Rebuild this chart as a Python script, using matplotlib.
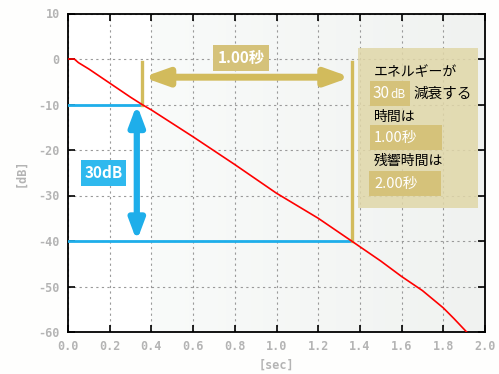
import numpy as np
import matplotlib
matplotlib.use("Agg")
import matplotlib.pyplot as plt
from matplotlib.patches import Rectangle

# ─── data ────────────────────────────────────────────────────────
t_sec = [0.0, 0.03, 0.05, 0.1, 0.2, 0.3, 0.355, 0.4, 0.6, 0.8, 1.0,
         1.2, 1.36, 1.5, 1.6, 1.7, 1.8, 1.85, 1.912]
decay_db = [0.0, 0.0, -0.8, -2.2, -5.3, -8.4, -10.0, -11.2, -17.1, -23.2,
            -29.5, -35.0, -40.0, -44.4, -47.8, -50.9, -54.7, -57.0, -60.0]

T_START, T_END = 0.355, 1.36      # -10 dB and -40 dB crossings
DB_START, DB_END = -10, -40
x_ticks = [0.0, 0.2, 0.4, 0.6, 0.8, 1.0, 1.2, 1.4, 1.6, 1.8, 2.0]
y_ticks = [10, 0, -10, -20, -30, -40, -50, -60]

# ─── colours ────────────────────────────────────────────────────
BLUE = "#1eaeea"
BLUE_BOX = "#2fb9ee"
GOLD = "#d2bb5c"
GOLD_BOX = "#d5c27a"
PANEL = "#e0d7a8"
TICK_C = "#b4b4b4"
JP = ["Noto Sans CJK JP", "DejaVu Sans"]
MONO = dict(family="DejaVu Sans Mono", fontweight="bold", fontsize=8.5,
            color=TICK_C)

fig = plt.figure(figsize=(4.99, 3.74), dpi=100)
fig.patch.set_facecolor("#fefefd")
ax = fig.add_axes([68 / 499, 1 - 332 / 374, 417 / 499, 318.5 / 374])
ax.set_xlim(0, 2.0)
ax.set_ylim(-60, 10)

# faint gradient panel on the right part of the plot
grad = np.linspace(0, 1, 256)[None, :]
ax.imshow(grad, extent=(0.4, 2.0, -60, 10), aspect="auto", zorder=0,
          cmap=matplotlib.colors.LinearSegmentedColormap.from_list(
              "g", ["#f9fbfa", "#f0f2f0"]))

ax.grid(True, color="#9a9a9a", linestyle=(0, (2, 3)), linewidth=0.8, zorder=1)
ax.set_xticks(x_ticks)
ax.set_yticks(y_ticks)
ax.set_xticklabels([f"{v:.1f}" for v in x_ticks], **MONO)
ax.set_yticklabels([str(v) for v in y_ticks], **MONO)
ax.tick_params(direction="in", length=5, width=1.2, top=True, right=True,
               colors="black", labelcolor=TICK_C, pad=6)
for sp in ax.spines.values():
    sp.set_linewidth(1.3)

ax.set_xlabel("[sec]", labelpad=4, **MONO)
ax.set_ylabel("[dB]", labelpad=8, **MONO)

# decay curve
ax.plot(t_sec, decay_db, color="red", lw=1.2, zorder=5)

# blue level lines and 30dB arrow
ax.plot([0, T_START], [DB_START, DB_START], color=BLUE, lw=2, zorder=4)
ax.plot([0, T_END], [DB_END, DB_END], color=BLUE, lw=2, zorder=4)
ax.annotate("", xy=(0.33, DB_END), xytext=(0.33, DB_START),
            arrowprops=dict(arrowstyle="<|-|>,head_width=0.45,head_length=1.2",
                            color=BLUE, lw=4.5, shrinkA=0, shrinkB=0),
            zorder=6)

# gold time span lines and arrow
ax.plot([T_START, T_START], [DB_START, -0.7], color=GOLD, lw=2.4, zorder=4)
ax.plot([T_END, T_END], [DB_END, -0.7], color=GOLD, lw=2.4, zorder=4)
ax.annotate("", xy=(T_START + 0.005, -4), xytext=(T_END - 0.005, -4),
            arrowprops=dict(arrowstyle="<|-|>,head_width=0.5,head_length=1.4",
                            color=GOLD, lw=5, shrinkA=0, shrinkB=0),
            zorder=6)


# ─── labels and explanation panel (figure pixel coords) ──────────
def px(x, y):
    return x / 499, 1 - y / 374

def fbox(x0, y0, x1, y1, fc, alpha=1.0, z=4):
    fig.patches.append(Rectangle(px(x0, y1), (x1 - x0) / 499, (y1 - y0) / 374,
                                 transform=fig.transFigure, fc=fc, ec="none",
                                 alpha=alpha, zorder=z))

def ftxt(x, y, s, color="black", size=10, weight="normal", ha="left"):
    fig.text(*px(x, y), s, color=color, fontsize=size, family=JP,
             fontweight=weight, ha=ha, va="center", zorder=6)

fbox(81, 160, 126, 186, BLUE_BOX)
ftxt(103.5, 173, "30dB", color="white", size=11, weight="bold", ha="center")

fbox(213, 45, 269, 71, GOLD_BOX)
ftxt(241, 58, "1.00秒", color="white", size=11, weight="bold", ha="center")

fbox(358, 48, 478, 208, PANEL, alpha=0.85, z=3)
fbox(370, 81, 410, 106, GOLD_BOX)
fbox(370, 125, 442, 150, GOLD_BOX)
fbox(369, 171, 441, 196, GOLD_BOX)

ftxt(374, 72, "エネルギーが")
ftxt(373, 94, "30", color="white", size=11)
ftxt(390, 95, "dB", color="white", size=8.5)
ftxt(413, 94, "減衰する", size=10.5)
ftxt(374, 117, "時間は")
ftxt(374, 138, "1.00秒", color="white", size=10.5)
ftxt(374, 161, "残響時間は")
ftxt(374, 184, "2.00秒", color="white", size=10.5)

fig.savefig("out.png", dpi=100)
